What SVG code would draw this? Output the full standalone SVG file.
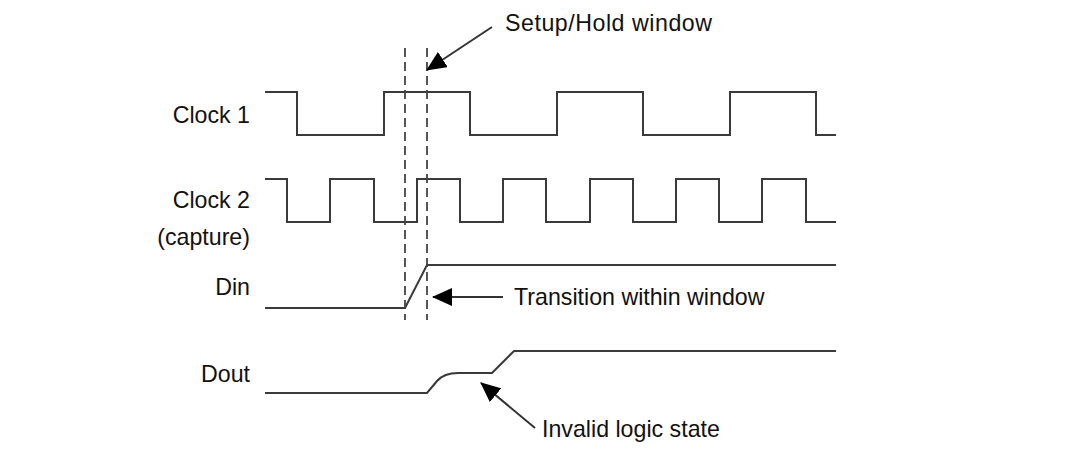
<svg xmlns="http://www.w3.org/2000/svg" width="1072" height="449" viewBox="0 0 1072 449">
<style>
.lbl{font-family:"Liberation Sans",Arial,sans-serif;font-size:23.2px;fill:#111}
.end{text-anchor:end}
.wave{fill:none;stroke:#3a3a3a;stroke-width:2;stroke-linejoin:miter}
.dash{fill:none;stroke:#444;stroke-width:1.8;stroke-dasharray:9 5}
.arr{fill:none;stroke:#333;stroke-width:2}
</style>
<defs>
<marker id="ah" viewBox="0 0 20 18" refX="19" refY="9" markerWidth="20" markerHeight="18" markerUnits="userSpaceOnUse" orient="auto">
<path d="M0,0 L20,9 L0,18 Z" fill="#000"/>
</marker>
</defs>
<rect width="1072" height="449" fill="#fff"/>
<g id="clock1">
<text class="lbl end" x="250" y="123">Clock 1</text>
<path class="wave" d="M265,92 H297 V135 H384 V92 H470 V135 H557 V92 H643 V135 H730 V92 H816 V135 H836"/>
</g>
<g id="clock2">
<text class="lbl end" x="250" y="208">Clock 2</text>
<text class="lbl end" x="250" y="245">(capture)</text>
<path class="wave" d="M265,179 H287 V222 H330 V179 H374 V222 H417 V179 H460 V222 H503 V179 H546 V222 H590 V179 H633 V222 H676 V179 H719 V222 H762 V179 H806 V222 H836"/>
</g>
<g id="din">
<text class="lbl end" x="250" y="295">Din</text>
<path class="wave" d="M265,308 H405 L427,265 H836"/>
</g>
<g id="dout">
<text class="lbl end" x="250" y="382">Dout</text>
<path class="wave" d="M265,393 H427 L437,381 Q444,373 458,373 H492 L514,351 H836"/>
</g>
<g id="window">
<line class="dash" x1="405" y1="48" x2="405" y2="320"/>
<line class="dash" x1="427" y1="48" x2="427" y2="320"/>
</g>
<g id="connectors">
<line class="arr" x1="492" y1="27" x2="427" y2="70" marker-end="url(#ah)"/>
<line class="arr" x1="503" y1="297" x2="433" y2="297" marker-end="url(#ah)"/>
<line class="arr" x1="535" y1="428" x2="481" y2="383" marker-end="url(#ah)"/>
</g>
<g id="labels">
<text class="lbl" x="505" y="31" textLength="207" lengthAdjust="spacing">Setup/Hold window</text>
<text class="lbl" x="514" y="305">Transition within window</text>
<text class="lbl" x="542" y="437">Invalid logic state</text>
</g>
</svg>
